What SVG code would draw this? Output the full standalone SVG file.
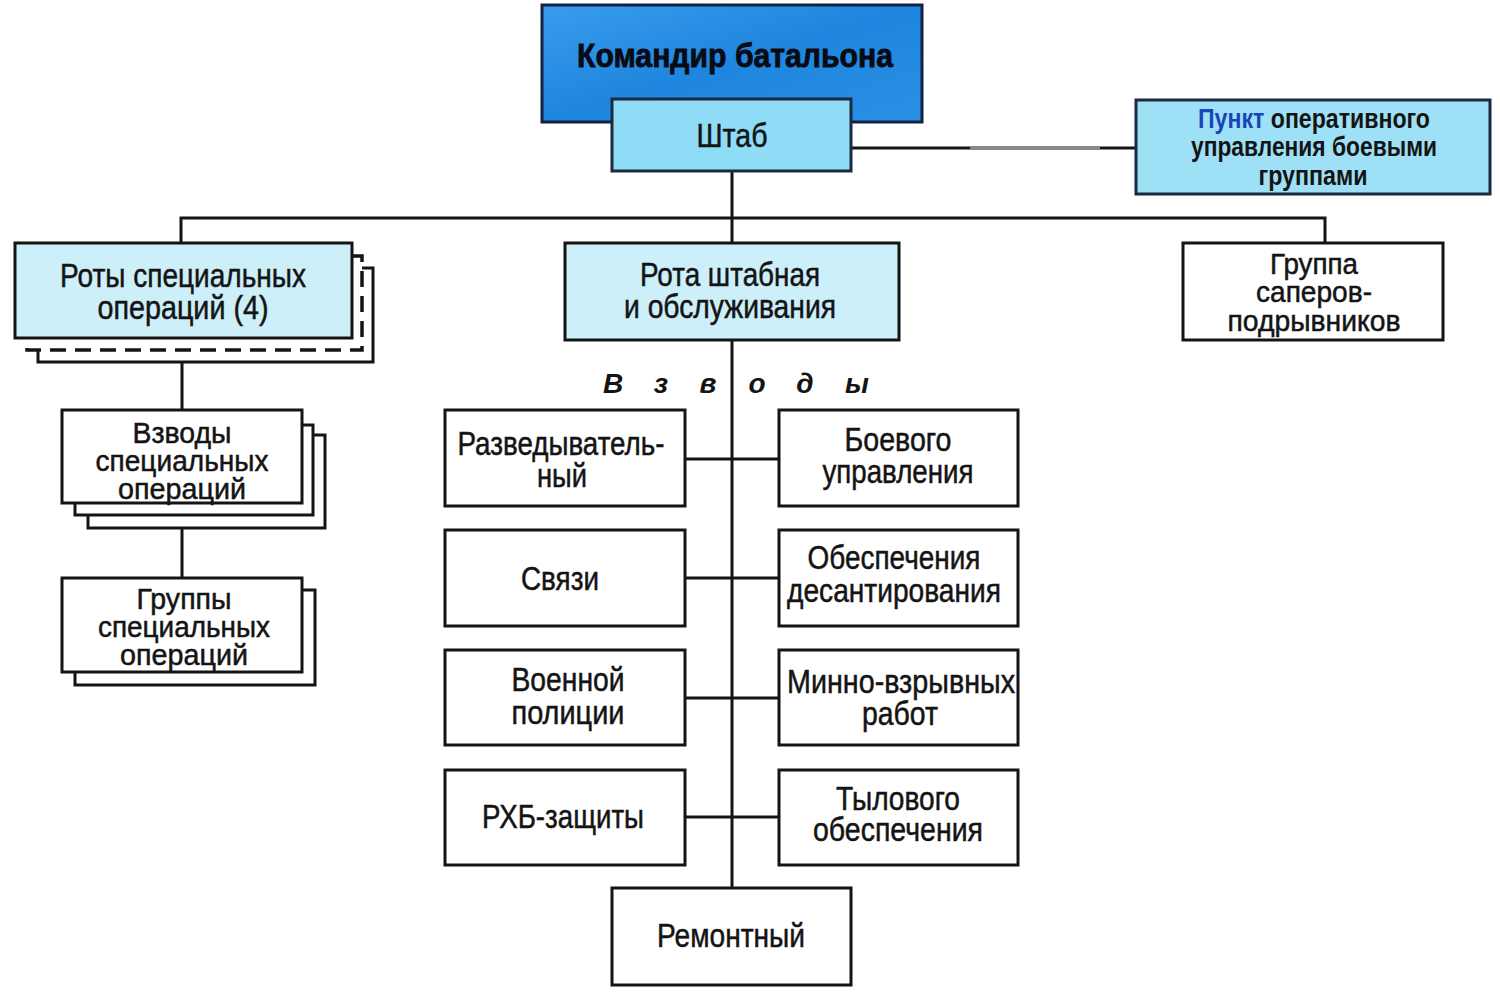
<svg xmlns="http://www.w3.org/2000/svg" width="1500" height="995" viewBox="0 0 1500 995">
<defs>
<linearGradient id="gCmd" x1="0" y1="0" x2="1" y2="1">
<stop offset="0" stop-color="#3a9cec"/>
<stop offset="0.5" stop-color="#1e86de"/>
<stop offset="1" stop-color="#2a90e4"/>
</linearGradient>
<style>
.box{fill:#fff;stroke:#141414;stroke-width:3}
.cyan{fill:#cdeff9;stroke:#141414;stroke-width:3}
.mid{fill:#8fdcf6;stroke:#1a2a40;stroke-width:3}
.dash{fill:#fff;stroke:#141414;stroke-width:3.5;stroke-dasharray:16 9}
.ln{fill:none;stroke:#141414;stroke-width:3}
text{font-family:"Liberation Sans",Arial,sans-serif;fill:#141414;text-anchor:middle;stroke:#141414;stroke-width:0.5}
.t{font-size:33px}
.t3{font-size:30px}
.tr{font-size:28px;font-weight:bold;stroke:none}
.title{font-size:34px;font-weight:bold;fill:#0a0a14;stroke:#0a0a14;stroke-width:0.8}
.vz{font-size:28px;font-weight:bold;font-style:italic;stroke:none}
</style>
</defs>
<rect width="1500" height="995" fill="#fff"/>

<g id="connectors">
<line class="ln" x1="851" y1="148" x2="1136" y2="148"/>
<line x1="970" y1="148" x2="1100" y2="148" stroke="#888" stroke-width="4"/>
<line class="ln" x1="732" y1="171" x2="732" y2="243"/>
<polyline class="ln" points="181,243 181,218 1325,218 1325,243"/>
<line class="ln" x1="182" y1="362" x2="182" y2="410"/>
<line class="ln" x1="182" y1="528" x2="182" y2="578"/>
<line class="ln" x1="732" y1="340" x2="732" y2="888"/>
<line class="ln" x1="685" y1="459" x2="779" y2="459"/>
<line class="ln" x1="685" y1="578" x2="779" y2="578"/>
<line class="ln" x1="685" y1="698" x2="779" y2="698"/>
<line class="ln" x1="685" y1="817" x2="779" y2="817"/>
</g>

<g id="commander">
<rect x="542" y="5" width="380" height="117" fill="url(#gCmd)" stroke="#122240" stroke-width="3"/>
<text class="title" x="735" y="67" textLength="316" lengthAdjust="spacingAndGlyphs">Командир батальона</text>
</g>
<g id="shtab">
<rect class="mid" x="612" y="99" width="239" height="72"/>
<text class="t" x="732" y="147" textLength="71" lengthAdjust="spacingAndGlyphs">Штаб</text>
</g>
<g id="punkt">
<rect x="1136" y="100" width="354" height="94" fill="#9ee0f6" stroke="#1a2a40" stroke-width="3"/>
<text class="tr" x="1314" y="128" textLength="232" lengthAdjust="spacingAndGlyphs"><tspan fill="#1a44b8">Пункт</tspan> оперативного</text>
<text class="tr" x="1314" y="156" textLength="246" lengthAdjust="spacingAndGlyphs">управления боевыми</text>
<text class="tr" x="1313" y="185" textLength="109" lengthAdjust="spacingAndGlyphs">группами</text>
</g>

<g id="roty">
<rect class="box" x="38" y="268" width="335" height="94"/>
<rect class="dash" x="27" y="256" width="335" height="94"/>
<rect class="cyan" x="15" y="243" width="337" height="95"/>
<text class="t" x="183" y="287" textLength="246" lengthAdjust="spacingAndGlyphs">Роты специальных</text>
<text class="t" x="183" y="319" textLength="171" lengthAdjust="spacingAndGlyphs">операций (4)</text>
</g>

<g id="rota-shtab">
<rect class="cyan" x="565" y="243" width="334" height="97"/>
<text class="t" x="730" y="286" textLength="180" lengthAdjust="spacingAndGlyphs">Рота штабная</text>
<text class="t" x="730" y="318" textLength="212" lengthAdjust="spacingAndGlyphs">и обслуживания</text>
</g>

<g id="sapery">
<rect class="box" x="1183" y="243" width="260" height="97"/>
<text class="t3" x="1314" y="274" textLength="88" lengthAdjust="spacingAndGlyphs">Группа</text>
<text class="t3" x="1314" y="302" textLength="116" lengthAdjust="spacingAndGlyphs">саперов-</text>
<text class="t3" x="1314" y="331" textLength="173" lengthAdjust="spacingAndGlyphs">подрывников</text>
</g>

<g id="vzvody-so">
<rect class="box" x="88" y="435" width="237" height="93"/>
<rect class="box" x="75" y="425" width="238" height="90"/>
<rect class="box" x="62" y="410" width="240" height="93"/>
<text class="t3" x="182" y="443" textLength="99" lengthAdjust="spacingAndGlyphs">Взводы</text>
<text class="t3" x="182" y="471" textLength="173" lengthAdjust="spacingAndGlyphs">специальных</text>
<text class="t3" x="182" y="499" textLength="128" lengthAdjust="spacingAndGlyphs">операций</text>
</g>

<g id="gruppy-so">
<rect class="box" x="75" y="590" width="240" height="95"/>
<rect class="box" x="62" y="578" width="240" height="94"/>
<text class="t3" x="184" y="609" textLength="95" lengthAdjust="spacingAndGlyphs">Группы</text>
<text class="t3" x="184" y="637" textLength="172" lengthAdjust="spacingAndGlyphs">специальных</text>
<text class="t3" x="184" y="665" textLength="128" lengthAdjust="spacingAndGlyphs">операций</text>
</g>

<g id="vzvody-label">
<text class="vz" x="613" y="393">В</text>
<text class="vz" x="661" y="393">з</text>
<text class="vz" x="708" y="393">в</text>
<text class="vz" x="757" y="393">о</text>
<text class="vz" x="805" y="393">д</text>
<text class="vz" x="857" y="393">ы</text>
</g>

<g id="razved">
<rect class="box" x="445" y="410" width="240" height="96"/>
<text class="t" x="561" y="455" textLength="207" lengthAdjust="spacingAndGlyphs">Разведыватель-</text>
<text class="t" x="562" y="487" textLength="50" lengthAdjust="spacingAndGlyphs">ный</text>
</g>
<g id="boevogo">
<rect class="box" x="779" y="410" width="239" height="96"/>
<text class="t" x="898" y="451" textLength="107" lengthAdjust="spacingAndGlyphs">Боевого</text>
<text class="t" x="898" y="483" textLength="151" lengthAdjust="spacingAndGlyphs">управления</text>
</g>
<g id="svyazi">
<rect class="box" x="445" y="530" width="240" height="96"/>
<text class="t" x="560" y="590" textLength="78" lengthAdjust="spacingAndGlyphs">Связи</text>
</g>
<g id="desant">
<rect class="box" x="779" y="530" width="239" height="96"/>
<text class="t" x="894" y="569" textLength="173" lengthAdjust="spacingAndGlyphs">Обеспечения</text>
<text class="t" x="894" y="602" textLength="214" lengthAdjust="spacingAndGlyphs">десантирования</text>
</g>
<g id="policii">
<rect class="box" x="445" y="650" width="240" height="95"/>
<text class="t" x="568" y="691" textLength="113" lengthAdjust="spacingAndGlyphs">Военной</text>
<text class="t" x="568" y="724" textLength="113" lengthAdjust="spacingAndGlyphs">полиции</text>
</g>
<g id="minno">
<rect class="box" x="779" y="650" width="239" height="95"/>
<text class="t" x="901" y="693" textLength="228" lengthAdjust="spacingAndGlyphs">Минно-взрывных</text>
<text class="t" x="900" y="725" textLength="76" lengthAdjust="spacingAndGlyphs">работ</text>
</g>
<g id="rhb">
<rect class="box" x="445" y="770" width="240" height="95"/>
<text class="t" x="563" y="828" textLength="162" lengthAdjust="spacingAndGlyphs">РХБ-защиты</text>
</g>
<g id="tyl">
<rect class="box" x="779" y="770" width="239" height="95"/>
<text class="t" x="898" y="810" textLength="124" lengthAdjust="spacingAndGlyphs">Тылового</text>
<text class="t" x="898" y="841" textLength="170" lengthAdjust="spacingAndGlyphs">обеспечения</text>
</g>
<g id="remont">
<rect class="box" x="612" y="888" width="239" height="97"/>
<text class="t" x="731" y="947" textLength="148" lengthAdjust="spacingAndGlyphs">Ремонтный</text>
</g>
</svg>
